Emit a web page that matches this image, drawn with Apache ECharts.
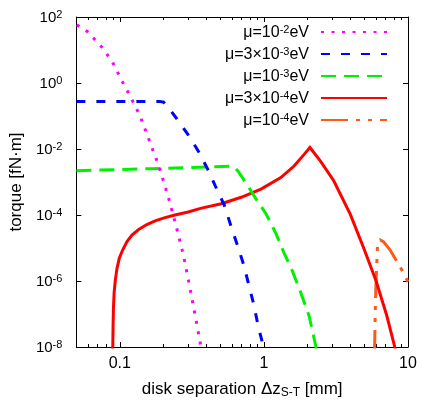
<!DOCTYPE html>
<html>
<head>
<meta charset="utf-8">
<script src="https://cdn.jsdelivr.net/npm/echarts@6/dist/echarts.min.js"></script>
<style>
  html, body { margin: 0; padding: 0; background: #fff; }
  #chart { width: 421px; height: 404px; }
</style>
</head>
<body>
<div id="chart"></div>
<script>
// Disk separation Δz [mm] and torque [fN·m] for each mediator mass μ
const sepMu1e2    = [0.0504, 0.0595, 0.0755, 0.0885, 0.1037, 0.1177, 0.138, 0.149, 0.1886, 0.2174, 0.248, 0.2758, 0.3049, 0.3316, 0.3589, 0.3716];
const torqueMu1e2 = [57.7, 36.4, 11.9, 4.54, 1.15, 0.409, 0.1035, 0.0424, 0.00271, 3.44e-4, 4.09e-5, 6.40e-6, 7.10e-7, 1.035e-7, 1.62e-8, 6.6e-9];

const sepMu3e3    = [0.05, 0.1894, 0.2018, 0.215, 0.248, 0.2986, 0.357, 0.4187, 0.475, 0.531, 0.5935, 0.660, 0.729, 0.789, 0.855, 0.910, 0.986, 1.009];
const torqueMu3e3 = [0.277, 0.277, 0.262, 0.192, 0.0841, 0.0267, 0.0076, 1.92e-3, 5.57e-4, 1.99e-4, 4.39e-5, 1.11e-5, 2.81e-6, 7.10e-7, 1.79e-7, 4.54e-8, 1.15e-8, 6.6e-9];

const sepMu1e3    = [0.05, 0.1669, 0.612, 0.660, 0.773, 0.882, 1.034, 1.211, 1.382, 1.578, 1.801, 2.055, 2.284, 2.34];
const torqueMu1e3 = [2.20e-3, 2.53e-3, 3.05e-3, 2.16e-3, 7.71e-4, 3.07e-4, 1.09e-4, 2.77e-5, 7.0e-6, 1.99e-6, 4.48e-7, 9.02e-8, 1.15e-8, 6.6e-9];

const sepMu3e4    = [0.0892, 0.0895, 0.0899, 0.0904, 0.0914, 0.0933, 0.0958, 0.0994, 0.1049, 0.1123, 0.1215, 0.1352, 0.1542, 0.1759, 0.2061, 0.2414, 0.2986, 0.369, 0.507, 0.696, 0.955, 1.311, 1.62, 1.897, 2.087, 2.47, 3.053, 3.98, 4.91, 6.01, 7.12, 8.03, 8.25];
const torqueMu3e4 = [5.8e-9, 1.15e-8, 4.54e-8, 1.43e-7, 4.48e-7, 1.12e-6, 2.49e-6, 4.96e-6, 8.83e-6, 1.56e-5, 2.48e-5, 3.64e-5, 5.13e-5, 6.62e-5, 8.30e-5, 1.0e-4, 1.23e-4, 1.62e-4, 2.20e-4, 3.44e-4, 6.10e-4, 1.36e-3, 3.05e-3, 6.76e-3, 0.0111, 4.30e-3, 1.09e-3, 1.04e-4, 1.04e-5, 1.0e-6, 9.0e-8, 1.15e-8, 6.6e-9];

const sepMu1e4    = [5.85, 5.92, 5.99, 6.08, 6.15, 6.40, 6.75, 7.50, 9.03, 10];
const torqueMu1e4 = [5e-9, 9.0e-8, 7.1e-7, 3.95e-6, 1.46e-5, 1.76e-5, 1.56e-5, 8.83e-6, 2.23e-6, 9.3e-7];

// Legend labels ("^" marks an exponent)
const seriesNames = ['μ=10^-2eV', 'μ=3×10^-3eV', 'μ=10^-3eV', 'μ=3×10^-4eV', 'μ=10^-4eV'];

// Axis ticks
const xMajorTicks = [0.1, 1, 10];
const xMinorTicks = [0.06, 0.07, 0.08, 0.09, 0.2, 0.3, 0.4, 0.5, 0.6, 0.7, 0.8, 0.9, 2, 3, 4, 5, 6, 7, 8, 9];
const yMajorTicks = [1e-8, 1e-6, 1e-4, 1e-2, 1, 100];

const FONT = '"Liberation Sans", Arial, Helvetica, sans-serif';

const zip = (xs, ys) => xs.map((x, i) => [x, ys[i]]);

const curves = [
  { data: zip(sepMu1e2, torqueMu1e2), color: '#ff00ff', dash: [3, 7.5] },
  { data: zip(sepMu3e3, torqueMu3e3), color: '#0000ff', dash: [9, 11] },
  { data: zip(sepMu1e3, torqueMu1e3), color: '#00f000', dash: [15, 8] },
  { data: zip(sepMu3e4, torqueMu3e4), color: '#ff0000', dash: 'solid' },
  { data: zip(sepMu1e4, torqueMu1e4), color: '#ff5a14', dash: [27, 8, 4, 8, 4, 8] }
];

function richName(name) {
  return '{t|' + name.replace(/\^(-?\d+)/, '}{s|$1}{t|') + '}';
}

const supRich = {
  b: { fontSize: 15, fontFamily: FONT, color: '#000', lineHeight: 15, padding: [2, 0, 0, 0] },
  s: { fontSize: 11, fontFamily: FONT, color: '#000', lineHeight: 11, verticalAlign: 'top' }
};

const xRange = { type: 'log', logBase: 10, min: 0.05, max: 10, gridIndex: 0 };
const yRange = { type: 'log', logBase: 10, min: 1e-8, max: 100, gridIndex: 0 };
const blackLine = { color: '#000', width: 1 };

function tickAxis(base, position, ticks, len, withLine) {
  return Object.assign({}, base, {
    position: position,
    axisLine: { show: withLine, onZero: false, lineStyle: blackLine },
    axisTick: { show: true, inside: true, length: len, lineStyle: blackLine, customValues: ticks },
    axisLabel: { show: false },
    splitLine: { show: false },
    minorTick: { show: false }
  });
}

const xMain = Object.assign({}, xRange, {
  position: 'bottom',
  axisLine: { show: true, onZero: false, lineStyle: blackLine },
  axisTick: { show: true, inside: true, length: 5, lineStyle: blackLine, customValues: xMajorTicks },
  axisLabel: {
    customValues: xMajorTicks, color: '#000', fontSize: 16, fontFamily: FONT, margin: 9,
    formatter: v => String(v)
  },
  splitLine: { show: false },
  name: '{n|disk separation Δz}{u|S-T}{n| [mm]}',
  nameLocation: 'middle',
  nameGap: 33,
  nameTextStyle: {
    color: '#000', fontFamily: FONT, fontSize: 17,
    rich: {
      n: { fontSize: 17, fontFamily: FONT, color: '#000', lineHeight: 19 },
      u: { fontSize: 12, fontFamily: FONT, color: '#000', lineHeight: 12, padding: [9, 0, 0, 0], verticalAlign: 'bottom' }
    }
  }
});

const yMain = Object.assign({}, yRange, {
  position: 'left',
  axisLine: { show: true, onZero: false, lineStyle: blackLine },
  axisTick: { show: true, inside: true, length: 5, lineStyle: blackLine, customValues: yMajorTicks },
  axisLabel: {
    customValues: yMajorTicks, margin: 14,
    formatter: v => '{b|10}{s|' + Math.round(Math.log10(v)) + '}',
    rich: supRich
  },
  splitLine: { show: false },
  name: 'torque [fN·m]',
  nameLocation: 'middle',
  nameGap: 48,
  nameTextStyle: { color: '#000', fontFamily: FONT, fontSize: 17 }
});

const chart = echarts.init(document.getElementById('chart'), null, { renderer: 'canvas' });

chart.setOption({
  animation: false,
  backgroundColor: '#fff',
  grid: { left: 74, top: 17, width: 334, height: 335, containLabel: false },
  xAxis: [
    xMain,
    tickAxis(xRange, 'bottom', xMinorTicks, 3, false),
    tickAxis(xRange, 'top', xMajorTicks, 5, true),
    tickAxis(xRange, 'top', xMinorTicks, 3, false)
  ],
  yAxis: [
    yMain,
    tickAxis(yRange, 'right', yMajorTicks, 5, true)
  ],
  legend: {
    orient: 'vertical',
    right: 28,
    top: 18,
    align: 'right',
    itemWidth: 66,
    itemHeight: 14,
    itemGap: 4,
    data: seriesNames,
    formatter: richName,
    itemStyle: { opacity: 0 },
    textStyle: {
      color: '#000', fontFamily: FONT, fontSize: 16, padding: [0, 7, 0, 0],
      rich: {
        t: { fontSize: 16, fontFamily: FONT, color: '#000', lineHeight: 16, padding: [2, 0, 0, 0] },
        s: { fontSize: 11, fontFamily: FONT, color: '#000', lineHeight: 11, verticalAlign: 'top' }
      }
    }
  },
  series: curves.map((c, i) => ({
    name: seriesNames[i],
    type: 'line',
    xAxisIndex: 0,
    yAxisIndex: 0,
    data: c.data,
    symbol: 'none',
    smooth: false,
    clip: true,
    color: c.color,
    lineStyle: { color: c.color, width: 3, type: c.dash, cap: 'butt', join: 'miter' },
    z: 10 - i
  }))
});
</script>
</body>
</html>
